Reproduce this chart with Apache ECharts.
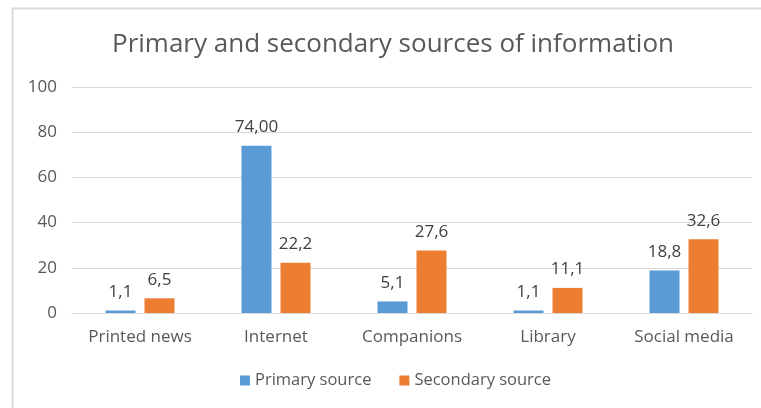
<!DOCTYPE html>
<html><head><meta charset="utf-8">
<script src="https://cdn.jsdelivr.net/npm/echarts@6/dist/echarts.min.js"></script>
<style>html,body{margin:0;padding:0;background:#fff}#c{width:761px;height:408px}</style>
</head><body><div id="c"></div>
<script>
const categories = ['Printed news', 'Internet', 'Companions', 'Library', 'Social media'];
const primaryValues = [1.1, 74.0, 5.1, 1.1, 18.8];
const secondaryValues = [6.5, 22.2, 27.6, 11.1, 32.6];
const primaryLabels = ['1,1', '74,00', '5,1', '1,1', '18,8'];
const secondaryLabels = ['6,5', '22,2', '27,6', '11,1', '32,6'];
const seriesNames = ['Primary source', 'Secondary source'];
const titleText = 'Primary and secondary sources of information';

const FONT = 'Open Sans';
const chart = echarts.init(document.getElementById('c'), null, {renderer: 'canvas'});
chart.setOption({
  animation: false,
  backgroundColor: '#fff',
  textStyle: {fontFamily: FONT},
  graphic: [{
    type: 'rect', left: 10, top: 6, silent: true,
    shape: {x: 0, y: 0, width: 780, height: 420},
    style: {fill: 'none', stroke: '#d9d9d9', lineWidth: 2}
  }],
  title: {
    text: titleText, left: 107, top: 27,
    textStyle: {fontFamily: FONT, fontSize: 26, fontWeight: 'normal', color: '#595959'}
  },
  legend: {
    bottom: 14, left: 235, itemWidth: 10, itemHeight: 10, itemGap: 28,
    icon: 'rect',
    textStyle: {fontFamily: FONT, fontSize: 16.5, color: '#595959'},
    data: seriesNames
  },
  grid: {left: 72, right: 9, top: 87, bottom: 95},
  xAxis: {
    type: 'category', data: categories,
    axisLine: {lineStyle: {color: '#d9d9d9', width: 1}},
    axisTick: {show: false},
    axisLabel: {fontFamily: FONT, fontSize: 17, color: '#595959', margin: 16}
  },
  yAxis: {
    type: 'value', min: 0, max: 100, interval: 20,
    axisLine: {show: false}, axisTick: {show: false},
    splitLine: {lineStyle: {color: '#d9d9d9', width: 1}},
    axisLabel: {fontFamily: FONT, fontSize: 17, color: '#595959', margin: 15}
  },
  series: [
    {
      name: seriesNames[0], type: 'bar', data: primaryValues,
      barWidth: 30, barGap: '30%',
      itemStyle: {color: '#5B9BD5'},
      label: {show: true, position: 'top', distance: 10, fontFamily: FONT, fontSize: 17, color: '#404040',
        formatter: p => primaryLabels[p.dataIndex]}
    },
    {
      name: seriesNames[1], type: 'bar', data: secondaryValues,
      barWidth: 30, barGap: '30%',
      itemStyle: {color: '#ED7D31'},
      label: {show: true, position: 'top', distance: 10, fontFamily: FONT, fontSize: 17, color: '#404040',
        formatter: p => secondaryLabels[p.dataIndex]}
    }
  ]
});
</script></body></html>
